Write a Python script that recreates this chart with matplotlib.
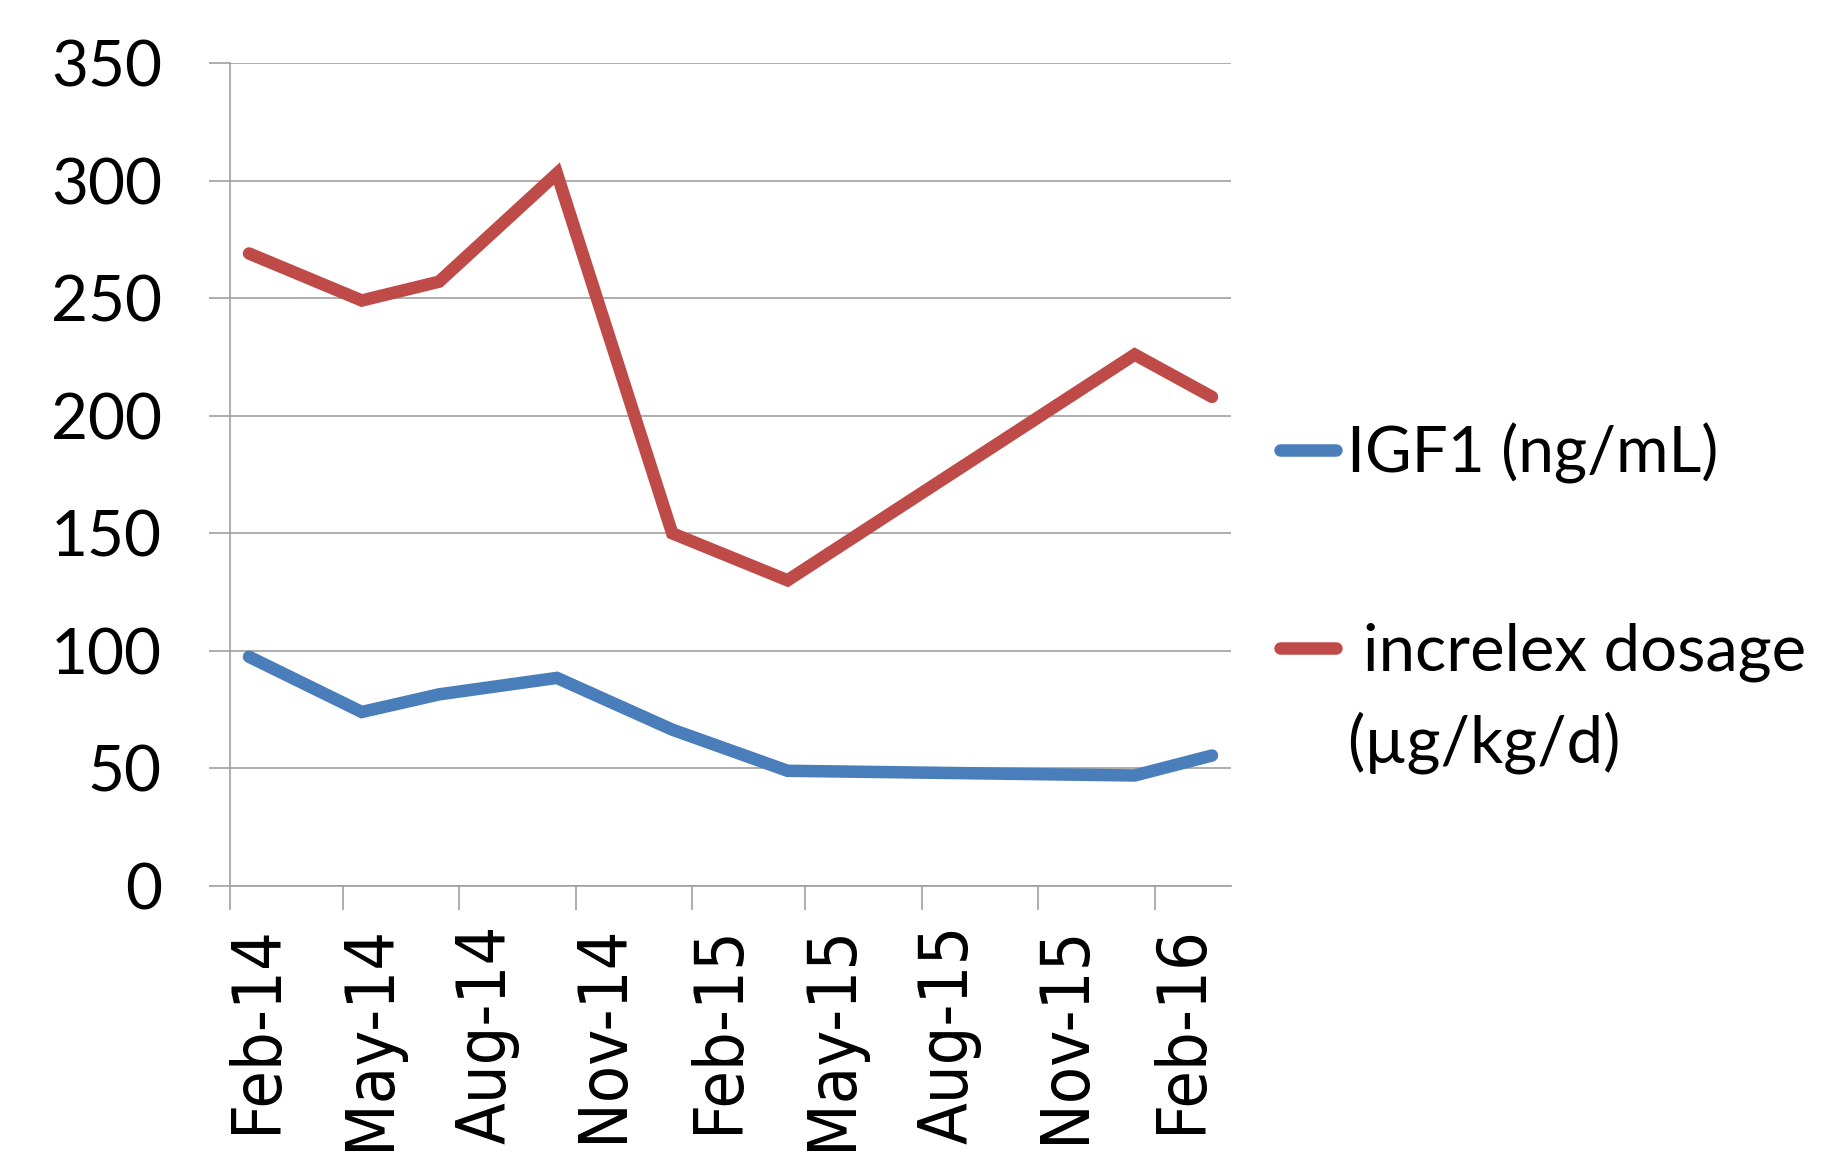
import datetime as dt
import matplotlib
matplotlib.use('Agg')
from matplotlib import pyplot as plt
import matplotlib.dates as mdates
import matplotlib.transforms as mtransforms
from matplotlib.lines import Line2D

# Visit dates and the two measured series
visitDates = ['2014-02-16', '2014-05-16', '2014-07-16', '2014-10-17',
              '2015-01-16', '2015-04-17', '2016-01-16', '2016-03-17']
igf1 = [97.5, 74, 81.5, 88.5, 66.5, 49, 47, 55.5]
increlex = [269, 249, 257, 303, 150, 130, 226, 208]

seriesLabels = ['IGF1 (ng/mL)', 'increlex dosage', '(µg/kg/d)']
yTicks = [0, 50, 100, 150, 200, 250, 300, 350]

BLUE = '#4A7EBB'
RED = '#BE4B48'
GRID = '#a0a0a0'

dates = [dt.datetime.strptime(d, '%Y-%m-%d') for d in visitDates]

fig = plt.figure(figsize=(18.24, 11.52), dpi=100)
ax = fig.add_axes([230 / 1824, 1 - 886 / 1152, 1001 / 1824, 823 / 1152])

ax.plot(dates, igf1, color=BLUE, lw=9, solid_capstyle='round', solid_joinstyle='miter')
ax.plot(dates, increlex, color=RED, lw=9, solid_capstyle='round', solid_joinstyle='miter')

# Axes formatting, Excel style
ax.set_xlim(dt.datetime(2014, 2, 1), dt.datetime(2016, 4, 1))
ax.set_ylim(0, 350)
ax.set_yticks(yTicks)
ax.xaxis.set_major_locator(mdates.MonthLocator(bymonth=[2, 5, 8, 11]))
ax.xaxis.set_major_formatter(mdates.DateFormatter('%b-%y'))
ax.grid(axis='y', color=GRID, lw=1.2)
ax.set_axisbelow(True)

for side in ['top', 'right']:
    ax.spines[side].set_visible(False)
for side in ['left', 'bottom']:
    ax.spines[side].set_color(GRID)
    ax.spines[side].set_linewidth(1.2)

ax.tick_params(axis='y', length=15, width=1.2, color=GRID, pad=34, labelsize=46)
ax.tick_params(axis='x', length=17, width=1.2, color=GRID, pad=11)
for lbl in ax.get_yticklabels():
    lbl.set_fontfamily('Lato')

# Nudge the rotated date labels a few pixels left so they start at the tick
shiftLeft = mtransforms.ScaledTranslation(-6 / 100, 0, fig.dpi_scale_trans)
for lbl in ax.get_xticklabels():
    lbl.set_fontfamily('DejaVu Sans')
    lbl.set_fontstretch('condensed')
    lbl.set_fontsize(49)
    lbl.set_rotation(90)
    lbl.set_horizontalalignment('left')
    lbl.set_verticalalignment('top')
    lbl.set_transform(lbl.get_transform() + shiftLeft)

# Legend on the right, drawn by hand to match the wrapped label
W, H = 1824, 1152
fig.add_artist(Line2D([1280 / W, 1336 / W], [1 - 450 / H, 1 - 450 / H], color=BLUE, lw=9,
                      solid_capstyle='round', transform=fig.transFigure))
fig.add_artist(Line2D([1280 / W, 1336 / W], [1 - 648 / H, 1 - 648 / H], color=RED, lw=9,
                      solid_capstyle='round', transform=fig.transFigure))
fig.text(1347 / W, 1 - 472 / H, seriesLabels[0], fontsize=46, family='Lato', va='baseline')
fig.text(1363 / W, 1 - 671 / H, seriesLabels[1], fontsize=47, family='Lato', va='baseline')
fig.text(1347 / W, 1 - 762 / H, seriesLabels[2], fontsize=47, family='Lato', va='baseline')

fig.savefig('out.png', dpi=100)
